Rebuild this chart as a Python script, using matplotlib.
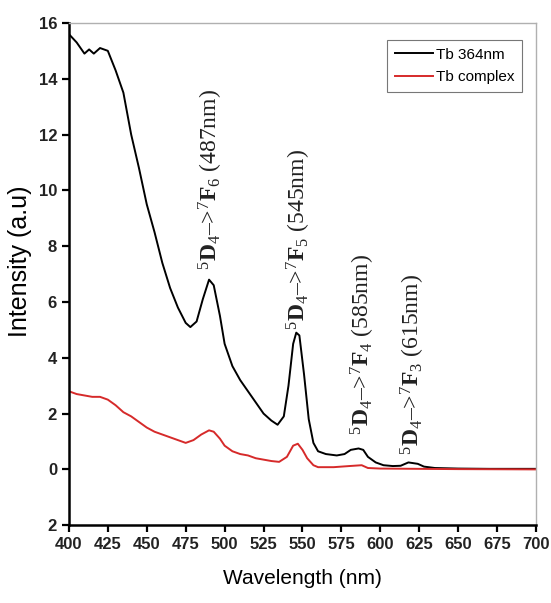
import matplotlib
matplotlib.use("Agg")
import matplotlib.pyplot as plt

plt.rcParams['mathtext.fontset'] = 'custom'
plt.rcParams['mathtext.rm'] = 'Liberation Serif'
plt.rcParams['mathtext.bf'] = 'Liberation Serif:bold'
plt.rcParams['mathtext.it'] = 'Liberation Serif:italic'

# Tb 364nm (black)
wl_black = [400, 405, 410, 413, 416, 420, 425, 430, 435, 440, 445, 450, 455, 460, 465,
            470, 475, 478, 482, 486, 490, 493, 497, 500, 505, 510, 515, 520, 525,
            530, 534, 538, 541, 544, 546, 548, 551, 554, 557, 560, 565, 572, 577,
            581, 586, 589, 592, 597, 602, 608, 613, 618, 624, 628, 635, 650, 670, 700]
int_black = [15.6, 15.3, 14.9, 15.05, 14.9, 15.1, 15.0, 14.3, 13.5, 12.0, 10.8, 9.5, 8.5, 7.4, 6.5,
             5.8, 5.25, 5.1, 5.3, 6.1, 6.8, 6.6, 5.5, 4.5, 3.7, 3.2, 2.8, 2.4, 2.0,
             1.75, 1.6, 1.9, 3.0, 4.5, 4.9, 4.8, 3.4, 1.8, 0.95, 0.65, 0.55, 0.5, 0.55,
             0.7, 0.75, 0.7, 0.45, 0.25, 0.15, 0.12, 0.13, 0.25, 0.2, 0.1, 0.05, 0.03, 0.02, 0.02]

# Tb complex (red)
wl_red = [400, 405, 410, 415, 420, 425, 430, 435, 440, 445, 450, 455, 460, 465, 470,
          475, 480, 485, 490, 493, 497, 500, 505, 510, 515, 520, 525, 530, 535,
          540, 544, 547, 550, 553, 557, 560, 570, 580, 588, 592, 600, 650, 700]
int_red = [2.8, 2.7, 2.65, 2.6, 2.6, 2.5, 2.3, 2.05, 1.9, 1.7, 1.5, 1.35, 1.25, 1.15, 1.05,
           0.95, 1.05, 1.25, 1.4, 1.35, 1.1, 0.85, 0.65, 0.55, 0.5, 0.4, 0.35, 0.3, 0.27,
           0.45, 0.85, 0.92, 0.7, 0.4, 0.15, 0.08, 0.08, 0.12, 0.15, 0.05, 0.03, 0.01, 0.0]

series_labels = ["Tb 364nm", "Tb complex"]

x_ticks = [400, 425, 450, 475, 500, 525, 550, 575, 600, 625, 650, 675, 700]
y_ticks = [-2, 0, 2, 4, 6, 8, 10, 12, 14, 16]
y_ticklabels = ["2", "0", "2", "4", "6", "8", "10", "12", "14", "16"]

annot_text = [r'$^{5}\mathbf{D}_{4}$–>$^{7}\mathbf{F}_{6}$ (487nm)',
              r'$^{5}\mathbf{D}_{4}$–>$^{7}\mathbf{F}_{5}$ (545nm)',
              r'$^{5}\mathbf{D}_{4}$–>$^{7}\mathbf{F}_{4}$ (585nm)',
              r'$^{5}\mathbf{D}_{4}$–>$^{7}\mathbf{F}_{3}$ (615nm)']
annot_x = [491, 548, 589, 621]
annot_y = [7.15, 5.0, 1.25, 0.5]

fig = plt.figure(figsize=(5.51, 6.03), dpi=100)
ax = fig.add_axes([0.125, 0.129, 0.848, 0.833])

ax.plot(wl_black, int_black, color='black', lw=1.4, label=series_labels[0])
ax.plot(wl_red, int_red, color='#d62a2a', lw=1.4, label=series_labels[1])

ax.set_xlim(400, 700)
ax.set_ylim(-2, 16)
ax.set_xticks(x_ticks)
ax.set_yticks(y_ticks)
ax.set_yticklabels(y_ticklabels)

for s in ['left', 'bottom']:
    ax.spines[s].set_linewidth(1.8)
    ax.spines[s].set_color('black')
for s in ['top', 'right']:
    ax.spines[s].set_linewidth(1.0)
    ax.spines[s].set_color('#b0b0b0')

ax.tick_params(axis='both', direction='out', length=5, width=1.6, top=False, right=False)
for lab in ax.get_xticklabels() + ax.get_yticklabels():
    lab.set_family('Liberation Sans')
    lab.set_fontweight('bold')
    lab.set_fontsize(12)
    lab.set_color('#222222')

ax.set_xlabel('Wavelength (nm)', family='Liberation Sans', fontsize=15, labelpad=12)
ax.set_ylabel('Intensity (a.u)', family='Liberation Sans', fontsize=18)
ax.yaxis.set_label_coords(-0.078, 0.525)

for t, xx, yy in zip(annot_text, annot_x, annot_y):
    ax.text(xx, yy, t, rotation=90, ha='center', va='bottom',
            family='Liberation Serif', fontsize=17, color='#222222')

leg = ax.legend(loc='upper right', bbox_to_anchor=(0.97, 0.966), fancybox=False,
                prop={'family': 'Liberation Sans', 'size': 11}, handlelength=2.5,
                borderpad=0.5, labelspacing=0.55, handletextpad=0.2, borderaxespad=0.0)
leg.get_frame().set_edgecolor('#555555')
leg.get_frame().set_linewidth(0.8)

fig.savefig('out.png', dpi=100)
